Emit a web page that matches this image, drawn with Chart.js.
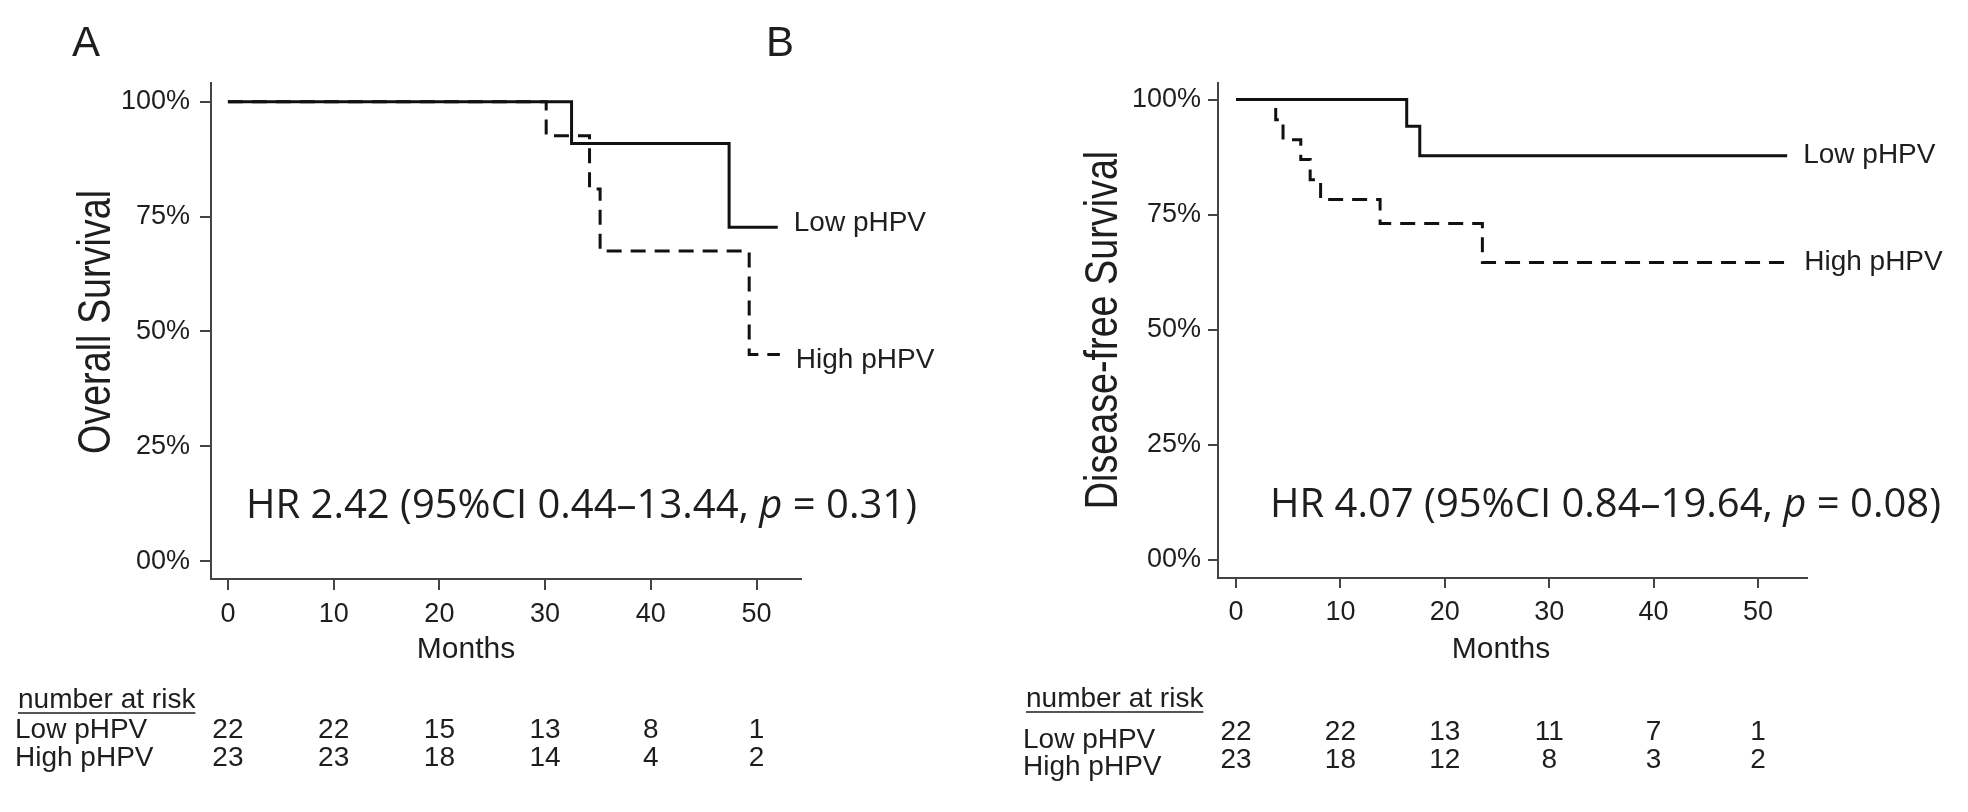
<!DOCTYPE html>
<html>
<head>
<meta charset="utf-8">
<script src="https://cdn.jsdelivr.net/npm/chart.js@4.4.1/dist/chart.umd.min.js"></script>
<style>
  html, body { margin: 0; padding: 0; background: #fff; }
  #wrap { position: relative; width: 1968px; height: 812px; overflow: hidden; }
  canvas { position: absolute; left: 0; top: 0; }
</style>
</head>
<body>
<div id="wrap">
  <canvas id="osChart" width="1968" height="812"></canvas>
  <canvas id="dfsChart" width="1968" height="812"></canvas>
</div>
<script>
// axes
const monthTicks = [0, 10, 20, 30, 40, 50];
const survTicks = [0, 25, 50, 75, 100];
const survTickLabels = ['00%', '25%', '50%', '75%', '100%'];
const groupNames = ['Low pHPV', 'High pHPV'];

// Panel A - overall survival, step points
const osLowTime  = [0, 32.5, 47.4, 52.0];
const osLowSurv  = [100, 90.9, 72.7, 72.7];
const osHighTime = [0, 30.1, 34.2, 35.2, 49.3, 52.2];
const osHighSurv = [100, 92.6, 81.0, 67.5, 45.0, 45.0];
const osRiskLow  = [22, 22, 15, 13, 8, 1];
const osRiskHigh = [23, 23, 18, 14, 4, 2];
const osHR = ['HR 2.42 (95%CI 0.44\u201313.44, ', 'p', ' = 0.31)'];

// Panel B - disease-free survival
const dfsLowTime  = [0, 16.35, 17.6, 52.8];
const dfsLowSurv  = [100, 94.2, 87.8, 87.8];
const dfsHighTime = [0, 3.8, 4.5, 6.2, 7.1, 8.1, 13.8, 23.6, 52.9];
const dfsHighSurv = [100, 95.6, 91.3, 87.0, 82.6, 78.3, 73.1, 64.6, 64.6];
const dfsRiskLow  = [22, 22, 13, 11, 7, 1];
const dfsRiskHigh = [23, 18, 12, 8, 3, 2];
const dfsHR = ['HR 4.07 (95%CI 0.84\u201319.64, ', 'p', ' = 0.08)'];

const INK = '#1e1e1e';
const SANS = '"Liberation Sans", Arial, sans-serif';

function toPoints(times, surv) {
  return times.map((t, i) => ({ x: t, y: surv[i] }));
}

// text that chart.js has no slot for: panel letter, titles, HR, risk table
const kmExtras = {
  id: 'kmExtras',
  afterDraw(chart, args, o) {
    const ctx = chart.ctx;
    const xs = chart.scales.x, ys = chart.scales.y;
    ctx.save();
    ctx.fillStyle = INK;
    ctx.strokeStyle = INK;

    ctx.font = '42px ' + SANS;
    ctx.textAlign = 'left';
    ctx.textBaseline = 'alphabetic';
    ctx.fillText(o.letter, o.letterX, 56);

    // y title, a bit condensed like the original
    ctx.save();
    ctx.translate(o.yTitleX, o.yTitleY);
    ctx.rotate(-Math.PI / 2);
    ctx.scale(0.82, 1);
    ctx.font = '46px ' + SANS;
    ctx.textAlign = 'center';
    ctx.fillText(o.yTitle, 0, 0);
    ctx.restore();

    ctx.font = '30px ' + SANS;
    ctx.textAlign = 'center';
    ctx.textBaseline = 'middle';
    ctx.fillText('Months', o.xTitleX, 650);

    // curve labels next to the last point of each curve
    ctx.font = '28px ' + SANS;
    ctx.textAlign = 'left';
    chart.data.datasets.forEach((ds, i) => {
      const last = ds.data[ds.data.length - 1];
      ctx.fillText(ds.label, xs.getPixelForValue(last.x) + 16,
                   ys.getPixelForValue(last.y) + o.labelShift[i]);
    });

    // hazard ratio, italic p
    ctx.textBaseline = 'alphabetic';
    let hx = o.hrX;
    o.hr.forEach((part, i) => {
      ctx.font = (i === 1 ? 'italic ' : '') + '40px "Open Sans", sans-serif';
      ctx.fillText(part, hx, o.hrY);
      hx += ctx.measureText(part).width;
    });

    // number at risk
    ctx.font = '28px ' + SANS;
    ctx.fillText('number at risk', o.tableX + 3, o.headY);
    const w = ctx.measureText('number at risk').width;
    ctx.lineWidth = 1.5;
    ctx.beginPath();
    ctx.moveTo(o.tableX + 3, o.headY + 5);
    ctx.lineTo(o.tableX + 3 + w, o.headY + 5);
    ctx.stroke();

    ctx.textBaseline = 'middle';
    o.risk.forEach((row, r) => {
      ctx.textAlign = 'left';
      ctx.fillText(groupNames[r], o.tableX, o.labelY[r]);
      ctx.textAlign = 'center';
      row.forEach((n, j) => {
        ctx.fillText(String(n), xs.getPixelForValue(monthTicks[j]), o.numY[r]);
      });
    });
    ctx.restore();
  }
};

function makeKM(id, low, high, xr, yr, pad, tickLen, tickPad, extras) {
  const axisStyle = {
    border: { display: true, color: '#444', width: 2 },
    grid: { drawOnChartArea: false, drawTicks: true, tickLength: tickLen, color: '#444', lineWidth: 2 }
  };
  return new Chart(document.getElementById(id).getContext('2d'), {
    type: 'line',
    data: {
      datasets: [
        { label: groupNames[0], data: low, borderColor: '#111', borderWidth: 3,
          pointRadius: 0, stepped: 'before', fill: false },
        { label: groupNames[1], data: high, borderColor: '#111', borderWidth: 3,
          borderDash: [15, 9], pointRadius: 0, stepped: 'before', fill: false }
      ]
    },
    options: {
      responsive: false,
      animation: false,
      events: [],
      layout: { padding: pad },
      plugins: { legend: { display: false }, tooltip: { enabled: false }, kmExtras: extras },
      scales: {
        x: Object.assign({
          type: 'linear', min: xr[0], max: xr[1],
          afterBuildTicks: s => { s.ticks = monthTicks.map(v => ({ value: v })); },
          afterFit: s => { s.height = 60; },
          ticks: { autoSkip: false, maxRotation: 0, padding: 8, color: INK,
                   font: { family: SANS, size: 27 }, callback: v => String(v) }
        }, axisStyle),
        y: Object.assign({
          type: 'linear', min: yr[0], max: yr[1],
          afterBuildTicks: s => { s.ticks = survTicks.map(v => ({ value: v })); },
          afterFit: s => { s.width = 100; },
          ticks: { autoSkip: false, padding: tickPad, color: INK,
                   font: { family: SANS, size: 27 },
                   callback: v => survTickLabels[survTicks.indexOf(v)] }
        }, axisStyle)
      }
    },
    plugins: [kmExtras]
  });
}

makeKM('osChart',
  toPoints(osLowTime, osLowSurv), toPoints(osHighTime, osHighSurv),
  [-1.6, 54.2], [-3.9, 104.1],
  { left: 111, right: 1167, top: 83, bottom: 173 }, 11, 10,
  { letter: 'A', letterX: 72, yTitle: 'Overall Survival', yTitleX: 110, yTitleY: 322,
    xTitleX: 466, hr: osHR, hrX: 246, hrY: 518, labelShift: [-4, 6],
    tableX: 15, headY: 708, risk: [osRiskLow, osRiskHigh],
    labelY: [730, 758], numY: [730, 758] });

makeKM('dfsChart',
  toPoints(dfsLowTime, dfsLowSurv), toPoints(dfsHighTime, dfsHighSurv),
  [-1.73, 54.7], [-3.9, 103.6],
  { left: 1118, right: 161, top: 83, bottom: 174 }, 10, 7,
  { letter: 'B', letterX: 766, yTitle: 'Disease-free Survival', yTitleX: 1117, yTitleY: 330,
    xTitleX: 1501, hr: dfsHR, hrX: 1270, hrY: 517, labelShift: [0, 0],
    tableX: 1023, headY: 707, risk: [dfsRiskLow, dfsRiskHigh],
    labelY: [740, 767], numY: [732, 760] });
</script>
</body>
</html>
